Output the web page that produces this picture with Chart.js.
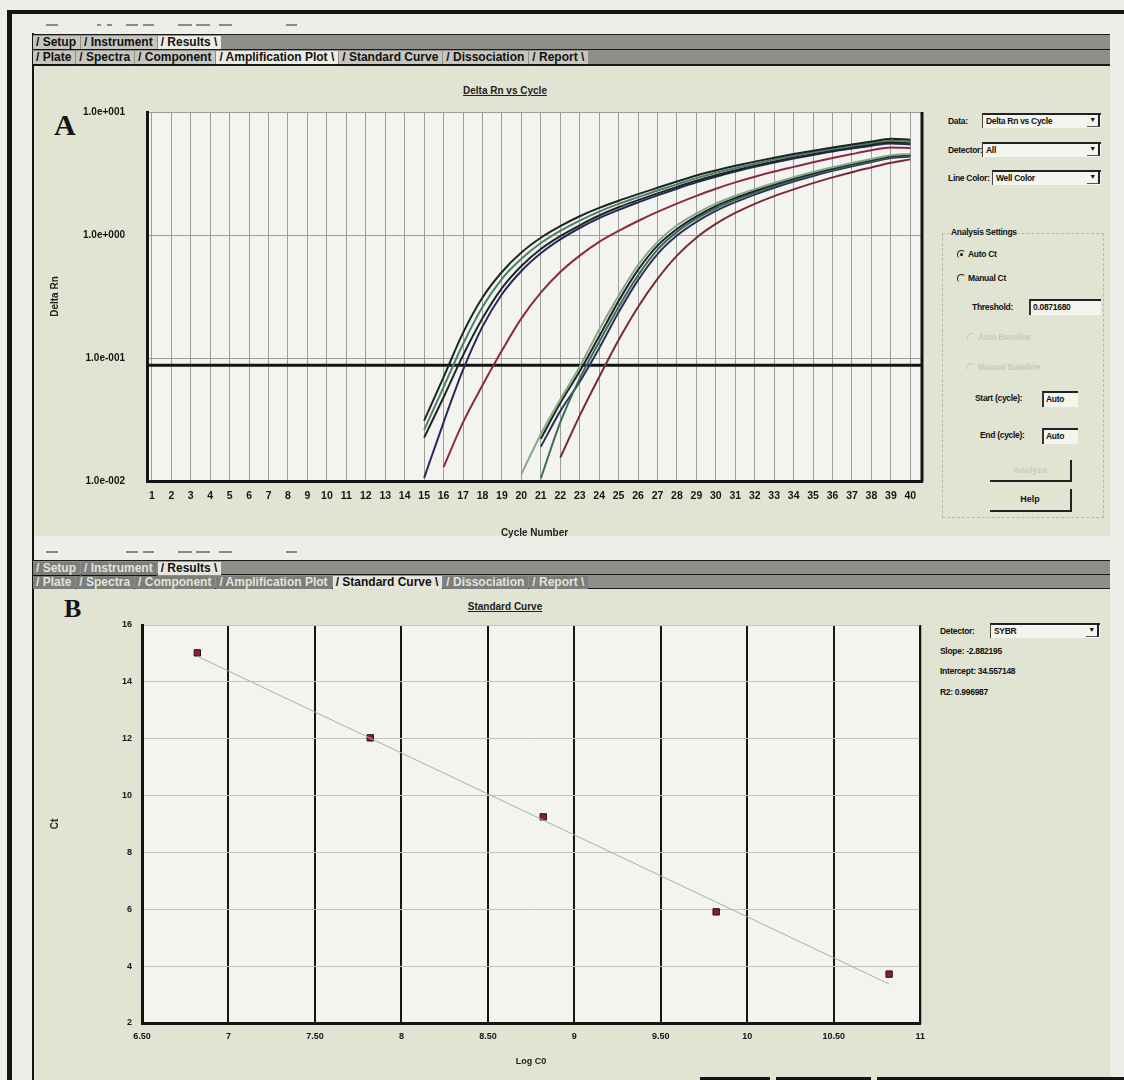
<!DOCTYPE html>
<html>
<head>
<meta charset="utf-8">
<title>Delta Rn vs Cycle / Standard Curve</title>
<script src="https://cdn.jsdelivr.net/npm/chart.js@4.4.1/dist/chart.umd.min.js"></script>
<style>
  body { margin:0; width:1124px; height:1080px; position:relative; overflow:hidden; background:#eeeee9; font-family:'Liberation Sans', Arial, sans-serif; }
  .bar { position:absolute; background:#141414; }
  .dash { position:absolute; height:2px; background:#8a8a86; }
  .panel { position:absolute; left:34px; width:1076px; background:#e1e4d3; }
  .tabs { position:absolute; left:33px; width:1077px; height:30px; background:#8e8e8b; border-top:1px solid #1a1a1a; border-bottom:1px solid #1a1a1a; }
  .row { position:absolute; left:0; right:0; height:14px; white-space:nowrap; font:bold 12px 'Liberation Sans', Arial, sans-serif; border-bottom:1px solid #1a1a1a; }
  .row span { display:inline-block; height:13px; line-height:13px; padding:0 4px 0 3px; background:#c6c6bf; color:#111; border-bottom:1px solid #111; margin-right:1px; }
  .row span.on { background:#ececE4; border-bottom:none; }
  .tabs.dim .row span { background:#7d7d7a; color:#e4e4de; }
  .tabs.dim .row span.on { background:#e6e6de; color:#111; }
  .lbl { position:absolute; font:bold 8.5px 'Liberation Sans', sans-serif; letter-spacing:-0.3px; color:#111; white-space:nowrap; line-height:11px; }
  .lbl.grey { color:#c9cabd; }
  .combo { position:absolute; height:15px; background:#f5f5f0; border-top:2px solid #222; border-left:1px solid #444; font:bold 8.5px 'Liberation Sans', sans-serif; letter-spacing:-0.3px; line-height:13px; padding-left:3px; box-sizing:border-box; color:#111; }
  .combo i { position:absolute; right:1px; top:0; width:11px; height:11px; border-right:2px solid #222; border-bottom:1px solid #555; font-style:normal; text-align:center; line-height:10px; font-size:7px; }
  .field { position:absolute; height:16px; background:#f5f5f0; border-top:2px solid #222; border-left:2px solid #333; box-sizing:border-box; font:bold 8.5px 'Liberation Sans', sans-serif; letter-spacing:-0.3px; line-height:13px; padding-left:2px; color:#111; }
  .radio { position:absolute; width:7px; height:7px; border-radius:50%; border:1px solid #222; border-right-color:#e1e4d3; border-bottom-color:#e1e4d3; }
  .radio.sel::after { content:''; position:absolute; left:2px; top:2px; width:3px; height:3px; border-radius:50%; background:#111; }
  .radio.grey { border-color:#c9cabd; border-right-color:#e1e4d3; border-bottom-color:#e1e4d3; }
  .group { position:absolute; border:1px dashed #b6b8a8; }
  .btn { position:absolute; border-right:2px solid #222; border-bottom:2px solid #222; text-align:center; font:bold 9px 'Liberation Sans', sans-serif; line-height:20px; color:#111; }
  .title { position:absolute; font:bold 10px 'Liberation Sans', Arial, sans-serif; text-decoration:underline; color:#222; transform:translateX(-50%); white-space:nowrap; }
  .big { position:absolute; font:bold 30px 'Liberation Serif', serif; color:#151515; }
  canvas { position:absolute; }
</style>
</head>
<body>
<!-- scanned window frame -->
<div class="bar" style="left:7px;top:10px;width:1117px;height:4px"></div>
<div class="bar" style="left:7px;top:10px;width:5px;height:1070px"></div>
<div class="bar" style="left:32px;top:33px;width:2px;height:1047px"></div>

<div class="dash" style="left:46px;top:24px;width:12px"></div>
<div class="dash" style="left:97px;top:24px;width:4px"></div>
<div class="dash" style="left:107px;top:24px;width:5px"></div>
<div class="dash" style="left:126px;top:24px;width:12px"></div>
<div class="dash" style="left:143px;top:24px;width:11px"></div>
<div class="dash" style="left:178px;top:24px;width:14px"></div>
<div class="dash" style="left:196px;top:24px;width:14px"></div>
<div class="dash" style="left:219px;top:24px;width:13px"></div>
<div class="dash" style="left:286px;top:24px;width:11px"></div>

<div class="tabs" style="top:34px">
  <div class="row" style="top:0"><span>/ Setup</span><span>/ Instrument</span><span class="on">/ Results \</span></div>
  <div class="row" style="top:15px"><span>/ Plate</span><span>/ Spectra</span><span>/ Component</span><span class="on">/ Amplification Plot \</span><span>/ Standard Curve</span><span>/ Dissociation</span><span>/ Report \</span></div>
</div>

<div class="panel" style="top:66px;height:470px"></div>
<div class="title" style="left:505px;top:85px">Delta Rn vs Cycle</div>
<div class="big" style="left:54px;top:108px">A</div>

<div class="lbl" style="left:948px;top:116px">Data:</div>
<div class="combo" style="left:982px;top:113px;width:119px">Delta Rn vs Cycle<i>&#9660;</i></div>
<div class="lbl" style="left:948px;top:145px">Detector:</div>
<div class="combo" style="left:982px;top:142px;width:119px">All<i>&#9660;</i></div>
<div class="lbl" style="left:948px;top:173px">Line Color:</div>
<div class="combo" style="left:992px;top:170px;width:109px">Well Color<i>&#9660;</i></div>

<div class="group" style="left:942px;top:233px;width:160px;height:283px"></div>
<div class="lbl" style="left:950px;top:227px;background:#e1e4d3;padding:0 1px">Analysis Settings</div>
<div class="radio sel" style="left:957px;top:250px"></div>
<div class="lbl" style="left:968px;top:249px">Auto Ct</div>
<div class="radio" style="left:957px;top:274px"></div>
<div class="lbl" style="left:968px;top:273px">Manual Ct</div>
<div class="lbl" style="left:972px;top:302px">Threshold:</div>
<div class="field" style="left:1029px;top:299px;width:72px">0.0871680</div>
<div class="radio grey" style="left:967px;top:333px"></div>
<div class="lbl grey" style="left:978px;top:332px">Auto Baseline</div>
<div class="radio grey" style="left:967px;top:363px"></div>
<div class="lbl grey" style="left:978px;top:362px">Manual Baseline</div>
<div class="lbl" style="left:975px;top:393px">Start (cycle):</div>
<div class="field" style="left:1042px;top:391px;width:36px">Auto</div>
<div class="lbl" style="left:980px;top:430px">End (cycle):</div>
<div class="field" style="left:1042px;top:428px;width:36px">Auto</div>
<div class="btn" style="left:990px;top:460px;width:80px;height:20px;color:#c9cabd">Analyze</div>
<div class="btn" style="left:990px;top:489px;width:80px;height:21px">Help</div>

<canvas id="chartA" width="900" height="461" style="left:33px;top:84px"></canvas>

<!-- second screenshot -->
<div class="dash" style="left:46px;top:551px;width:12px"></div>
<div class="dash" style="left:126px;top:551px;width:12px"></div>
<div class="dash" style="left:143px;top:551px;width:11px"></div>
<div class="dash" style="left:178px;top:551px;width:14px"></div>
<div class="dash" style="left:196px;top:551px;width:14px"></div>
<div class="dash" style="left:219px;top:551px;width:13px"></div>
<div class="dash" style="left:286px;top:551px;width:11px"></div>

<div class="tabs dim" style="top:560px;height:28px">
  <div class="row" style="top:0;height:13px"><span>/ Setup</span><span>/ Instrument</span><span class="on">/ Results \</span></div>
  <div class="row" style="top:14px;height:13px"><span>/ Plate</span><span>/ Spectra</span><span>/ Component</span><span>/ Amplification Plot</span><span class="on">/ Standard Curve \</span><span>/ Dissociation</span><span>/ Report \</span></div>
</div>

<div class="panel" style="top:589px;height:491px"></div>
<div class="title" style="left:505px;top:601px">Standard Curve</div>
<div class="big" style="left:64px;top:594px;font-size:26px">B</div>

<div class="lbl" style="left:940px;top:626px">Detector:</div>
<div class="combo" style="left:990px;top:623px;width:110px">SYBR<i>&#9660;</i></div>
<div class="lbl" style="left:940px;top:646px">Slope: -2.882195</div>
<div class="lbl" style="left:940px;top:666px">Intercept: 34.557148</div>
<div class="lbl" style="left:940px;top:687px">R2: 0.996987</div>

<canvas id="chartB" width="900" height="478" style="left:33px;top:600px"></canvas>

<div class="bar" style="left:700px;top:1077px;width:70px;height:3px"></div>
<div class="bar" style="left:776px;top:1077px;width:95px;height:3px"></div>
<div class="bar" style="left:877px;top:1077px;width:247px;height:3px"></div>

<script>
// ---- A: amplification plot (Delta Rn vs cycle, log scale) ----
const cycleTicks = [1,2,3,4,5,6,7,8,9,10,11,12,13,14,15,16,17,18,19,20,21,22,23,24,25,26,27,28,29,30,31,32,33,34,35,36,37,38,39,40];
const yTicksA = [0.01, 0.1, 1, 10];
const yLabelsA = ['1.0e-002', '1.0e-001', '1.0e+000', '1.0e+001'];
const threshold = 0.0871680;

const g1Cycles = [15,16,17,18,19,20,21,22,23,24,25,26,27,28,29,30,31,32,33,34,35,36,37,38,39,40];
const redCycles = [16,17,18,19,20,21,22,23,24,25,26,27,28,29,30,31,32,33,34,35,36,37,38,39,40];
const g2aCycles = [20,21,22,23,24,25,26,27,28,29,30,31,32,33,34,35,36,37,38,39,40];
const g2Cycles = [21,22,23,24,25,26,27,28,29,30,31,32,33,34,35,36,37,38,39,40];
const g2redCycles = [22,23,24,25,26,27,28,29,30,31,32,33,34,35,36,37,38,39,40];

// early group (higher template)
const g1a = [0.031,0.070,0.16,0.31,0.50,0.72,0.95,1.18,1.42,1.66,1.90,2.15,2.42,2.72,3.05,3.35,3.65,3.95,4.25,4.55,4.85,5.15,5.45,5.75,6.05,5.95];
const g1b = [0.026,0.058,0.13,0.26,0.44,0.64,0.86,1.08,1.31,1.55,1.79,2.03,2.30,2.58,2.90,3.20,3.50,3.80,4.10,4.40,4.70,5.00,5.30,5.60,5.85,5.75];
const g1c = [0.0225,0.048,0.105,0.21,0.37,0.56,0.77,0.98,1.20,1.44,1.68,1.92,2.18,2.46,2.76,3.06,3.36,3.66,3.96,4.26,4.56,4.86,5.15,5.45,5.70,5.60];
const g1d = [0.0106,0.030,0.080,0.18,0.33,0.51,0.71,0.92,1.14,1.37,1.60,1.84,2.10,2.38,2.68,2.98,3.28,3.58,3.88,4.18,4.48,4.78,5.05,5.32,5.55,5.45];
const g1red = [0.013,0.030,0.060,0.115,0.21,0.34,0.50,0.68,0.88,1.08,1.30,1.54,1.80,2.08,2.38,2.68,2.98,3.28,3.58,3.90,4.22,4.55,4.88,5.15,5.10];
// late group
const g2a = [0.0114,0.024,0.046,0.085,0.17,0.32,0.57,0.88,1.20,1.50,1.80,2.08,2.36,2.65,2.95,3.25,3.55,3.85,4.15,4.45,4.55];
const g2b = [0.022,0.043,0.078,0.15,0.29,0.52,0.82,1.12,1.42,1.72,2.00,2.28,2.57,2.87,3.17,3.47,3.77,4.07,4.37,4.48];
const g2c = [0.0105,0.030,0.068,0.135,0.26,0.47,0.76,1.06,1.36,1.65,1.93,2.21,2.50,2.80,3.10,3.40,3.70,4.00,4.30,4.42];
const g2d = [0.019,0.037,0.064,0.12,0.235,0.43,0.70,0.99,1.28,1.57,1.85,2.13,2.42,2.72,3.02,3.32,3.62,3.92,4.22,4.34];
const g2red = [0.0155,0.034,0.070,0.14,0.26,0.44,0.68,0.95,1.23,1.51,1.79,2.07,2.35,2.64,2.94,3.24,3.54,3.86,4.12];

// ---- B: standard curve ----
const logC0 = [6.82, 7.82, 8.82, 9.82, 10.82];
const ctValues = [15.02, 12.03, 9.25, 5.91, 3.72];
const fitX = [6.82, 10.82];
const fitY = [14.90, 3.37];
const xTicksB = [6.5, 7, 7.5, 8, 8.5, 9, 9.5, 10, 10.5, 11];
const xLabelsB = ['6.50', '7', '7.50', '8', '8.50', '9', '9.50', '10', '10.50', '11'];
const yTicksB = [2, 4, 6, 8, 10, 12, 14, 16];

function pts(xs, ys) {
    return ys.map((v, i) => ({ x: xs[i], y: v }));
}

function curve(xs, ys, color) {
    return {
        data: pts(xs, ys),
        borderColor: color,
        borderWidth: 2,
        pointRadius: 0,
        cubicInterpolationMode: 'monotone',
        fill: false
    };
}

// plot background, right border and threshold line
const plotFrame = {
    id: 'plotFrame',
    beforeDraw(chart, args, opts) {
        const { ctx, chartArea: a } = chart;
        ctx.save();
        ctx.fillStyle = opts.bg;
        ctx.fillRect(a.left, a.top, a.right - a.left, a.bottom - a.top);
        ctx.restore();
    },
    beforeDatasetsDraw(chart, args, opts) {
        if (opts.threshold === undefined) return;
        const { ctx, chartArea: a } = chart;
        const y = chart.scales.y.getPixelForValue(opts.threshold);
        ctx.save();
        ctx.strokeStyle = '#141414';
        ctx.lineWidth = 3;
        ctx.beginPath();
        ctx.moveTo(a.left, y);
        ctx.lineTo(a.right, y);
        ctx.stroke();
        ctx.restore();
    },
    afterDraw(chart, args, opts) {
        const { ctx, chartArea: a } = chart;
        ctx.save();
        ctx.strokeStyle = '#141414';
        ctx.lineWidth = opts.rightWidth;
        ctx.beginPath();
        ctx.moveTo(a.right, a.top);
        ctx.lineTo(a.right, a.bottom + 1);
        ctx.stroke();
        ctx.restore();
    }
};

const tickFont = { family: "'Liberation Sans', Arial, sans-serif", weight: 'bold', size: 10.5 };
const labelFont = { family: "'Liberation Sans', Arial, sans-serif", weight: 'bold', size: 10 };

new Chart(document.getElementById('chartA'), {
    type: 'line',
    data: {
        datasets: [
            curve(g2aCycles, g2a, '#86a889'),
            curve(g2Cycles, g2b, '#1c2522'),
            curve(g2Cycles, g2c, '#3c6a5f'),
            curve(g2Cycles, g2d, '#2b3456'),
            curve(g2redCycles, g2red, '#7a2a3a'),
            curve(g1Cycles, g1a, '#1b2622'),
            curve(g1Cycles, g1b, '#4d7d6c'),
            curve(g1Cycles, g1c, '#1f2520'),
            curve(g1Cycles, g1d, '#25285a'),
            curve(redCycles, g1red, '#8b2a48')
        ]
    },
    options: {
        responsive: false,
        animation: false,
        layout: { padding: { top: 11, right: 11, left: 0, bottom: 0 } },
        plugins: {
            legend: { display: false },
            tooltip: { enabled: false },
            plotFrame: { bg: '#f3f4ef', threshold: threshold, rightWidth: 3 }
        },
        scales: {
            x: {
                type: 'linear',
                min: 0.75,
                max: 40.6,
                afterBuildTicks: s => { s.ticks = cycleTicks.map(v => ({ value: v })); },
                afterFit: s => { s.height = 64; },
                grid: { color: '#9d9e9a', lineWidth: 1, drawTicks: false },
                border: { color: '#141414', width: 3 },
                ticks: { autoSkip: false, maxRotation: 0, padding: 9, color: '#151515', font: tickFont },
                title: { display: true, text: 'Cycle Number', color: '#222', font: labelFont, padding: { top: 0, bottom: 6 } }
            },
            y: {
                type: 'logarithmic',
                min: 0.01,
                max: 10,
                afterBuildTicks: s => { s.ticks = yTicksA.map(v => ({ value: v })); },
                afterFit: s => { s.width = 114; },
                grid: { color: '#9d9e9a', lineWidth: 1, drawTicks: false },
                border: { color: '#141414', width: 3 },
                ticks: { padding: 22, color: '#151515', font: labelFont, callback: (v, i) => yLabelsA[i] },
                title: { display: true, text: 'Delta Rn', color: '#222', font: labelFont, padding: { top: 16, bottom: 0 } }
            }
        }
    },
    plugins: [plotFrame]
});

new Chart(document.getElementById('chartB'), {
    type: 'scatter',
    data: {
        datasets: [
            {
                type: 'line',
                data: pts(fitX, fitY),
                borderColor: '#9db5aa',
                borderWidth: 1,
                pointRadius: 0,
                fill: false
            },
            {
                data: pts(logC0, ctValues),
                pointStyle: 'rect',
                pointRadius: 4.5,
                backgroundColor: '#8c1f36',
                borderColor: '#2b0b12',
                borderWidth: 1
            }
        ]
    },
    options: {
        responsive: false,
        animation: false,
        layout: { padding: { top: 25, right: 12, left: 0, bottom: 0 } },
        plugins: {
            legend: { display: false },
            tooltip: { enabled: false },
            plotFrame: { bg: '#f3f4ef', rightWidth: 2 }
        },
        scales: {
            x: {
                type: 'linear',
                min: 6.5,
                max: 11,
                afterBuildTicks: s => { s.ticks = xTicksB.map(v => ({ value: v })); },
                afterFit: s => { s.height = 55; },
                grid: { color: '#161616', lineWidth: 2, drawTicks: false },
                border: { color: '#141414', width: 3 },
                ticks: { autoSkip: false, maxRotation: 0, padding: 8, color: '#151515', font: { ...labelFont, size: 9 }, callback: (v, i) => xLabelsB[i] },
                title: { display: true, text: 'Log C0', color: '#222', font: { ...labelFont, size: 9 }, padding: { top: 0, bottom: 11 } }
            },
            y: {
                type: 'linear',
                min: 2,
                max: 16,
                afterBuildTicks: s => { s.ticks = yTicksB.map(v => ({ value: v })); },
                afterFit: s => { s.width = 109; },
                grid: { color: '#c3c5bd', lineWidth: 1, drawTicks: false },
                border: { color: '#141414', width: 3 },
                ticks: { padding: 10, color: '#151515', font: { ...labelFont, size: 9 } },
                title: { display: true, text: 'Ct', color: '#222', font: { ...labelFont, size: 10 }, padding: { top: 16, bottom: 0 } }
            }
        }
    },
    plugins: [plotFrame]
});
</script>
</body>
</html>
